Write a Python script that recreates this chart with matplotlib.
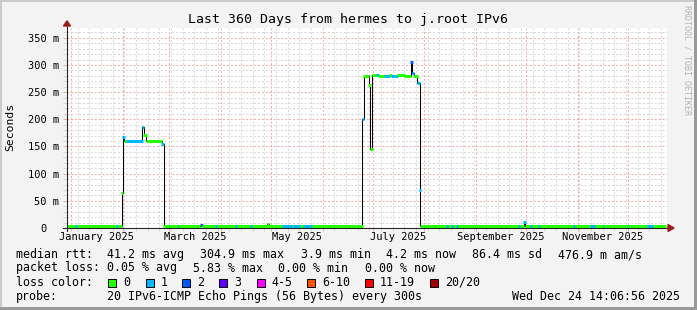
import matplotlib
matplotlib.use('Agg')
import matplotlib.pyplot as plt
import matplotlib.dates as mdates
import matplotlib.transforms as mtransforms
from matplotlib.patches import Rectangle, Polygon
from datetime import datetime
import numpy as np

# smokeping style graph, 360 days of median rtt, coloured by packet loss
MONO = 'DejaVu Sans Mono'
W, H = 697, 310

title = 'Last 360 Days from hermes to j.root IPv6'
t_start = '2024-12-29 14:06:56'
t_end = '2025-12-24 14:06:56'
data_end = '2025-12-23 16:00'

# median rtt segments: start time, value in ms, loss bin
seg_start = [
    '2024-12-29 14:07', '2025-01-03 16:00', '2025-01-04 16:00', '2025-01-28 08:00',
    '2025-01-29 08:00', '2025-01-31 08:00', '2025-02-01 02:00', '2025-02-02 02:00',
    '2025-02-03 12:00', '2025-02-12 16:00', '2025-02-13 16:00', '2025-02-15 02:00',
    '2025-02-24 08:00', '2025-02-25 16:00', '2025-03-05 16:00', '2025-03-06 16:00',
    '2025-03-19 16:00', '2025-03-20 16:00', '2025-03-28 16:00', '2025-03-29 16:00',
    '2025-04-09 16:00', '2025-04-10 16:00', '2025-04-18 16:00', '2025-04-19 16:00',
    '2025-04-28 16:00', '2025-04-29 16:00', '2025-05-07 16:00', '2025-05-13 16:00',
    '2025-05-14 16:00', '2025-05-18 16:00', '2025-05-20 12:00', '2025-05-25 16:00',
    '2025-06-24 16:00', '2025-06-25 16:00', '2025-06-28 16:00', '2025-06-29 16:00',
    '2025-06-30 16:00', '2025-07-03 08:00', '2025-07-04 08:00', '2025-07-08 00:00',
    '2025-07-11 00:00', '2025-07-12 00:00', '2025-07-16 00:00', '2025-07-20 00:00',
    '2025-07-23 20:00', '2025-07-24 16:00', '2025-07-25 16:00', '2025-07-27 16:00',
    '2025-07-29 08:00', '2025-07-29 16:00', '2025-08-14 12:00', '2025-08-15 12:00',
    '2025-08-17 12:00', '2025-08-18 12:00', '2025-08-20 08:00', '2025-08-21 08:00',
    '2025-09-26 16:00', '2025-09-27 16:00', '2025-09-29 16:00', '2025-09-30 16:00',
    '2025-10-03 16:00', '2025-10-04 16:00', '2025-10-08 12:00', '2025-10-09 12:00',
    '2025-10-29 12:00', '2025-10-30 12:00', '2025-11-08 16:00', '2025-11-11 16:00',
    '2025-11-16 08:00', '2025-11-17 08:00', '2025-11-30 16:00', '2025-12-01 16:00',
    '2025-12-12 16:00', '2025-12-16 16:00',
]
seg_ms = [
    4.2, 4.2, 4.2, 4.2,
    4.2, 64, 168, 160,
    160, 186, 171, 160,
    154, 4.2, 4.2, 4.2,
    6, 4.2, 4.2, 4.2,
    4.2, 4.2, 4.2, 4.2,
    8, 4.2, 4.2, 4.2,
    4.2, 4.2, 4.2, 4.2,
    201, 280, 263, 145,
    281, 282, 280, 279,
    281, 279, 281, 279,
    306, 285, 279, 266,
    70, 4.2, 4.2, 4.2,
    4.2, 4.2, 4.2, 4.2,
    4.2, 4.2, 11, 4.2,
    4.2, 4.2, 4.2, 4.2,
    4.2, 4.2, 4.2, 4.2,
    4.2, 4.2, 4.2, 4.2,
    4.2, 4.2,
]
seg_loss = [
    0, 1, 0, 1,
    0, 0, 1, 0,
    1, 1, 0, 0,
    1, 0, 1, 0,
    2, 0, 1, 0,
    1, 0, 1, 0,
    0, 0, 1, 0,
    1, 0, 1, 0,
    1, 0, 0, 0,
    0, 1, 0, 1,
    0, 1, 0, 0,
    2, 1, 0, 1,
    1, 0, 1, 0,
    1, 0, 1, 0,
    1, 0, 1, 0,
    1, 0, 1, 0,
    1, 0, 1, 0,
    1, 0, 1, 0,
    1, 0,
]

loss_colors = ['#26ff00', '#00b8ff', '#0059ff', '#5e00ff', '#ff00ff', '#ff5500', '#ff0000', '#a10000']
loss_labels = ['0', '1', '2', '3', '4-5', '6-10', '11-19', '20/20']

y_ticks = [0, 50, 100, 150, 200, 250, 300, 350]
y_labels = ['0  ', '50 m', '100 m', '150 m', '200 m', '250 m', '300 m', '350 m']
month_labels = ['January 2025', 'March 2025', 'May 2025', 'July 2025', 'September 2025', 'November 2025']
month_first = ['2025-01-01', '2025-03-01', '2025-05-01', '2025-07-01', '2025-09-01', '2025-11-01']
month_next = ['2025-02-01', '2025-04-01', '2025-06-01', '2025-08-01', '2025-10-01', '2025-12-01']

# legend pieces, placed like rrdtool does (x in pixels)
rtt_items = ['median rtt:', '41.2 ms avg', '304.9 ms max', '3.9 ms min', '4.2 ms now', '86.4 ms sd', '476.9 m am/s']
rtt_x = [16, 107.3, 200, 300.7, 385.7, 472.3, 558.3]
loss_items = ['packet loss:', '0.05 % avg', '5.83 % max', '0.00 % min', '0.00 % now']
loss_x = [16, 107.3, 192.7, 278.3, 365]
probe_items = ['probe:', '20 IPv6-ICMP Echo Pings (56 Bytes) every 300s']
probe_x = [16, 107.3]
stamp = 'Wed Dec 24 14:06:56 2025'

RED_GRID = '#f4a6a6'
GRAY_GRID = '#d6d6d6'
ARROW = '#9b1c1c'
FS = 8.37

def fx(x):
    return x / W

def fy(y):
    return 1 - y / H

fig = plt.figure(figsize=(W / 100, H / 100), dpi=100, facecolor='#f3f3f3')
ax = fig.add_axes([fx(67), fy(228), 600 / W, 200 / H])
ax.set_facecolor('white')

x0 = mdates.date2num(datetime.fromisoformat(t_start))
x1 = mdates.date2num(datetime.fromisoformat(t_end))
ax.set_xlim(x0, x1)
ax.set_ylim(0, 368)

# grid
ax.xaxis.set_major_locator(mdates.MonthLocator())
ax.xaxis.set_minor_locator(mdates.WeekdayLocator(byweekday=mdates.SU))
ax.set_yticks(y_ticks)
ax.set_yticklabels(y_labels, fontfamily=MONO, fontsize=7.5)
ax.set_yticks(range(0, 368, 10), minor=True)
ax.grid(which='major', color=RED_GRID, linestyle=(0, (2, 2)), lw=0.7)
ax.grid(which='minor', color=GRAY_GRID, linestyle=(0, (2, 2)), lw=0.7)
ax.set_axisbelow(True)
ax.tick_params(axis='x', which='both', labelbottom=False, length=2.2, width=0.7, direction='out')
ax.tick_params(axis='y', which='both', length=2.8, width=0.7, direction='out', pad=2.6)
ax.tick_params(which='major', color=RED_GRID)
ax.tick_params(which='minor', color=GRAY_GRID)
for sp in ax.spines.values():
    sp.set_visible(False)

# data
ts = mdates.date2num([datetime.fromisoformat(s) for s in seg_start])
te = np.append(ts[1:], mdates.date2num(datetime.fromisoformat(data_end)))
ms = np.array(seg_ms)
ax.step(np.append(ts, te[-1]), np.append(ms, ms[-1]), where='post', color='black', lw=0.75, zorder=3)
ext = 0.3  # days, about half a pixel like rrdtool's LINE3 ends
ax.hlines(ms, ts - ext, te + ext, colors=[loss_colors[l] for l in seg_loss], lw=2.2, zorder=4)

# month labels centred in their month
trans = mtransforms.blended_transform_factory(ax.transData, ax.transAxes)
for lab, a, b in zip(month_labels, month_first, month_next):
    xa = mdates.date2num(datetime.fromisoformat(a))
    xb = mdates.date2num(datetime.fromisoformat(b))
    ax.text((xa + xb) / 2, -0.0475, lab, transform=trans, ha='center', va='center',
            fontfamily=MONO, fontsize=7.5)

# axis lines with arrows
ax.plot([0, 0], [-0.015, 1.012], transform=ax.transAxes, color='#202020', lw=0.75, clip_on=False, zorder=5)
ax.plot([-4 / 600, 1.002], [0, 0], transform=ax.transAxes, color='#202020', lw=0.75, clip_on=False, zorder=5)
ax.add_patch(Polygon([[-3.5 / 600, 1.01], [3.5 / 600, 1.01], [0, 1.036]], closed=True,
                     transform=ax.transAxes, color=ARROW, clip_on=False, zorder=6))
ax.add_patch(Polygon([[1.0017, -0.0175], [1.0017, 0.0175], [1.0117, 0]], closed=True,
                     transform=ax.transAxes, color=ARROW, clip_on=False, zorder=6))

# texts
fig.text(fx(347.5), fy(19), title, ha='center', va='center', fontfamily=MONO, fontsize=9.5)
fig.text(fx(10), fy(127), 'Seconds', rotation=90, ha='center', va='center', fontfamily=MONO, fontsize=8.2)
fig.text(fx(687), fy(5), 'RRDTOOL / TOBI OETIKER', rotation=270, ha='center', va='top',
         fontfamily=MONO, fontsize=6, color='#b4b4b4')

for items, xs, yy in [(rtt_items, rtt_x, 254.7), (loss_items, loss_x, 268), (probe_items, probe_x, 296.3)]:
    for s, xx in zip(items, xs):
        fig.text(fx(xx), fy(yy), s, ha='left', va='center', fontfamily=MONO, fontsize=FS)
fig.text(fx(16), fy(282.3), 'loss color:', ha='left', va='center', fontfamily=MONO, fontsize=FS)
fig.text(fx(680), fy(296.3), stamp, ha='right', va='center', fontfamily=MONO, fontsize=FS)

sq_x = [108.3, 145.7, 182.3, 219.3, 256.7, 307.3, 365, 430]
for xs, col, lab in zip(sq_x, loss_colors, loss_labels):
    fig.add_artist(Rectangle((fx(xs), fy(286.5)), 8 / W, 8 / H, transform=fig.transFigure,
                             facecolor=col, edgecolor='black', lw=0.7))
    fig.text(fx(xs + 15), fy(282.3), lab, ha='left', va='center', fontfamily=MONO, fontsize=FS)

# 3d frame
fig.add_artist(Rectangle((0, 0), fx(2), 1, transform=fig.transFigure, color='#cbcbcb', lw=0))
fig.add_artist(Rectangle((0, fy(2)), 1, 2 / H, transform=fig.transFigure, color='#cbcbcb', lw=0))
fig.add_artist(Rectangle((fx(694), 0), 3 / W, 1, transform=fig.transFigure, color='#999999', lw=0))
fig.add_artist(Rectangle((0, 0), 1, 3 / H, transform=fig.transFigure, color='#999999', lw=0))

fig.savefig('out.png', dpi=100, facecolor=fig.get_facecolor())
